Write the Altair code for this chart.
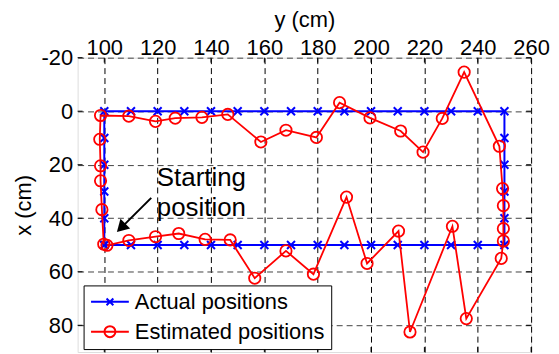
import altair as alt
import pandas as pd

FONT = "Liberation Sans"

# ---- data -------------------------------------------------------------
x_ticks = [100, 120, 140, 160, 180, 200, 220, 240, 260]   # horizontal axis "y (cm)"
y_ticks = [-20, 0, 20, 40, 60, 80]                         # vertical axis "x (cm)"
X_DOMAIN = [90, 260]
Y_DOMAIN = [-20, 90]

series_names = ["Actual positions", "Estimated positions"]
series_colors = ["#0000ff", "#ff0000"]

# actual positions (path order: start, up left side, top, right side, bottom)
actual_y = [100, 100, 100, 100, 100, 100,
            110, 120, 130, 140, 150, 160, 170, 180, 190, 200, 210, 220, 230, 240, 250,
            250, 250, 250, 250, 250,
            240, 230, 220, 210, 200, 190, 180, 170, 160, 150, 140, 130, 120, 110, 100]
actual_x = [50, 40, 30, 20, 10, 0,
            0, 0, 0, 0, 0, 0, 0, 0, 0, 0, 0, 0, 0, 0, 0,
            10, 20, 30, 40, 50,
            50, 50, 50, 50, 50, 50, 50, 50, 50, 50, 50, 50, 50, 50, 50]

est_y = [99.8, 99.1, 98.6, 98.6, 98.3, 98.6,
         109.2, 119.2, 126.6, 136.6, 146.3, 158.7, 168.1, 179.5, 188.2, 199.6, 211.1, 219.5, 226.7, 234.9, 248.1,
         249.3, 249.6, 249.6, 249.6, 248.8,
         235.7, 230.5, 214.6, 210.3, 198.5, 190.8, 178.4, 168.1, 156.4, 147.2, 137.8, 127.9, 119.2, 109.2, 101.0]
est_x = [49.7, 36.8, 26.0, 20.4, 10.5, 1.6,
         1.85, 3.8, 2.6, 2.3, 1.2, 11.5, 7.1, 9.8, -3.2, 2.5, 7.4, 15.3, 2.7, -14.6, 13.1,
         28.9, 35.3, 43.9, 48.5, 55.0,
         77.5, 43.0, 82.5, 44.8, 56.9, 32.1, 60.9, 52.2, 62.4, 48.1, 47.9, 45.7, 46.9, 48.3, 50.1]

annot_text = "Starting\nposition"
annot_pos = [119.7, 28.1]      # (y cm, x cm)
arrow_tail = [117.6, 32.4]
arrow_head = [106.3, 43.6]

# ---- frames -------------------------------------------------------------
act_df = pd.DataFrame({"yy": actual_y, "xx": actual_x,
                       "series": series_names[0], "ord": range(len(actual_y))})
est_df = pd.DataFrame({"yy": est_y, "xx": est_x,
                       "series": series_names[1], "ord": range(len(est_y))})
leg_df = pd.DataFrame({"yy": [actual_y[0], est_y[0]], "xx": [actual_x[0], est_x[0]],
                       "series": series_names})

tick_len_x = 5 * (X_DOMAIN[1] - X_DOMAIN[0]) / 456
tick_len_y = 5 * (Y_DOMAIN[1] - Y_DOMAIN[0]) / 296
tick_rows = []
for v in x_ticks:
    tick_rows.append({"yy": v, "yy2": v, "xx": Y_DOMAIN[0], "xx2": Y_DOMAIN[0] + tick_len_y})
    tick_rows.append({"yy": v, "yy2": v, "xx": Y_DOMAIN[1], "xx2": Y_DOMAIN[1] - tick_len_y})
for v in y_ticks:
    tick_rows.append({"yy": X_DOMAIN[0], "yy2": X_DOMAIN[0] + tick_len_x, "xx": v, "xx2": v})
    tick_rows.append({"yy": X_DOMAIN[1], "yy2": X_DOMAIN[1] - tick_len_x, "xx": v, "xx2": v})
tick_df = pd.DataFrame(tick_rows)

arrow_df = pd.DataFrame({"yy": [arrow_tail[0]], "xx": [arrow_tail[1]],
                         "yy2": [arrow_head[0]], "xx2": [arrow_head[1]]})
head_df = pd.DataFrame({"yy": [arrow_head[0]], "xx": [arrow_head[1]]})
text_df = pd.DataFrame({"yy": [annot_pos[0]], "xx": [annot_pos[1]], "t": [annot_text]})

# ---- encodings ------------------------------------------------------------
xenc = alt.X("yy:Q",
             scale=alt.Scale(domain=X_DOMAIN, nice=False, zero=False),
             axis=alt.Axis(orient="top", title="y (cm)", values=x_ticks,
                           labelExpr="datum.value + ''",
                           domain=False, ticks=False, tickSize=0,
                           labelFont=FONT, labelFontSize=22, labelColor="black",
                           labelBaseline="alphabetic", labelPadding=3,
                           titleFont=FONT, titleFontSize=22, titleFontWeight="normal",
                           titleColor="black", titlePadding=5,
                           grid=True, gridColor="black", gridDash=[6, 4], gridWidth=1,
                           gridOpacity=1, labelFlush=False, labelOverlap=False))
yenc = alt.Y("xx:Q",
             scale=alt.Scale(domain=Y_DOMAIN, reverse=True, nice=False, zero=False),
             axis=alt.Axis(orient="left", title="x (cm)", values=y_ticks,
                           labelExpr="datum.value + ''",
                           domain=False, ticks=False, tickSize=0,
                           labelFont=FONT, labelFontSize=22, labelColor="black",
                           labelPadding=5,
                           titleFont=FONT, titleFontSize=22, titleFontWeight="normal",
                           titleColor="black", titlePadding=6,
                           grid=True, gridColor="#444444", gridDash=[6, 4], gridWidth=1,
                           gridOpacity=1, labelFlush=False, labelOverlap=False))

X_PATH = "M-1,-1L1,1M-1,1L1,-1"
ACT_LEG = "M-1,0L1,0M-0.18,-0.18L0.18,0.18M-0.18,0.18L0.18,-0.18"
EST_LEG = ("M-1,0L1,0M-0.29,0A0.29,0.29 0 1,0 0.29,0"
           "A0.29,0.29 0 1,0 -0.29,0")

legend = alt.Legend(
    title=None, orient="none", legendX=6, legendY=229,
    fillColor="white", strokeColor="black", padding=6.5,
    symbolSize=1444, clipHeight=20, rowPadding=8,
    labelFont=FONT, labelFontSize=22, labelOffset=5, labelColor="black",
    labelLimit=400,
    symbolStrokeWidth=2, symbolOpacity=1, symbolFillColor="transparent",
)
leg_layer = alt.Chart(leg_df).mark_point(filled=False, opacity=0).encode(
    x=xenc, y=yenc,
    color=alt.Color("series:N", scale=alt.Scale(domain=series_names, range=series_colors),
                    legend=legend),
    shape=alt.Shape("series:N", scale=alt.Scale(domain=series_names, range=[ACT_LEG, EST_LEG]),
                    legend=legend),
)

ticks = alt.Chart(tick_df).mark_rule(color="black", strokeWidth=1).encode(
    x=xenc, y=yenc, x2="yy2:Q", y2="xx2:Q")

act_line = alt.Chart(act_df).mark_line(color="#0000ff", strokeWidth=2).encode(
    x=xenc, y=yenc, order="ord:Q")
act_pts = alt.Chart(act_df).mark_point(shape=X_PATH, size=64, filled=False, color="#0000ff",
                                       strokeWidth=2, opacity=1).encode(x=xenc, y=yenc)
est_line = alt.Chart(est_df).mark_line(color="#ff0000", strokeWidth=1.8).encode(
    x=xenc, y=yenc, order="ord:Q")
est_pts = alt.Chart(est_df).mark_point(shape="circle", size=130, filled=False, color="#ff0000",
                                       strokeWidth=1.8, opacity=1).encode(x=xenc, y=yenc)

arrow = alt.Chart(arrow_df).mark_rule(color="black", strokeWidth=2).encode(
    x=xenc, y=yenc, x2="yy2:Q", y2="xx2:Q")
head = alt.Chart(head_df).mark_point(shape="triangle-up", size=190, filled=True,
                                     color="black", opacity=1, angle=225).encode(
    x=xenc, y=yenc)
label = alt.Chart(text_df).mark_text(align="left", baseline="alphabetic", font=FONT,
                                     fontSize=26, lineHeight=30, lineBreak="\n",
                                     color="black").encode(
    x=xenc, y=yenc, text="t:N")

chart = alt.layer(ticks, act_line, act_pts, est_line, est_pts, arrow, head, label,
                  leg_layer).properties(
    width=456, height=296,
    autosize=alt.AutoSizeParams(type="none"),
    padding={"left": 70, "top": 49, "right": 20, "bottom": 1},
).configure_view(stroke="black", strokeWidth=1).configure(background="white")

chart.save("out.html", embed_options={"renderer": "svg", "actions": False})
